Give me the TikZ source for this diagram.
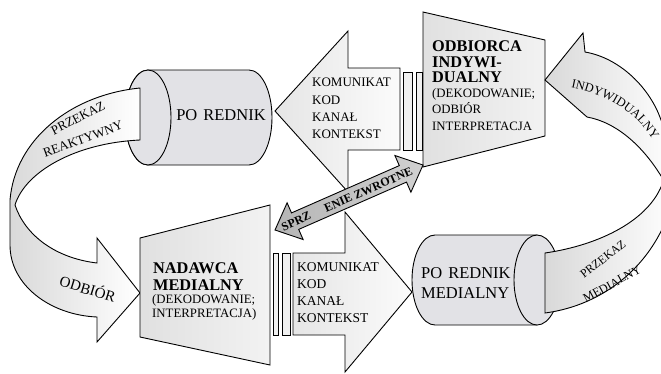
\documentclass[tikz,border=0pt]{standalone}
\usepackage{fontspec}
\setmainfont{Liberation Serif}
\usepackage{tikz}
\usetikzlibrary{positioning, decorations.text}
\definecolor{tubegray}{RGB}{226,226,230}
\tikzset{
    x=1pt, y=-1pt,
    outline/.style={draw=black, line width=0.9pt, line join=miter},
    tube/.style={outline, fill=tubegray},
    band/.style={outline, left color=gray!30, right color=white},
    flatarrow/.style={outline, left color=gray!20, right color=gray!3},
    bar/.style={outline, fill=gray!12},
    station/.style={outline, left color=gray!24, middle color=gray!2, right color=gray!10},
    feedback/.style={outline, left color=gray!58, right color=gray!36},
    msgtext/.style={inner sep=0pt, align=left, font=\fontsize{13}{17.3}\selectfont},
    headtext/.style={inner sep=0pt, align=left, font=\bfseries\fontsize{16.3}{15.5}\selectfont},
    roletext/.style={inner sep=0pt, align=left, font=\fontsize{12.8}{16.5}\selectfont},
    tubetext/.style={inner sep=0pt, align=left, font=\fontsize{16.5}{20}\selectfont},
    bandtext/.style={inner sep=0pt, font=\fontsize{13}{13}\selectfont}
}

\begin{document}
\begin{tikzpicture}
    \useasboundingbox (0,0) rectangle (661,373);
    \clip (0,0) rectangle (661,373);

    % upper relay tube and the reactive band
    \path[tube] (148,70) -- (249,70) arc[start angle=90, end angle=-90, x radius=23pt, y radius=47.5pt]
        -- (148,165) arc[start angle=270, end angle=90, x radius=23pt, y radius=47.5pt] -- cycle;
    \path[tube] (148,117.5) ellipse [x radius=23pt, y radius=47.5pt];
    \path[band] (140,88) .. controls (70,95) and (15,140) .. (10,200) -- (10,245)
        .. controls (10,285) and (50,315) .. (97,317) -- (97,342) -- (140,293) -- (97,238) -- (97,263)
        .. controls (55,258) and (25,235) .. (15,205)
        .. controls (25,172) and (75,143) .. (140,140) -- cycle;

    % message going to the relay
    \path[flatarrow] (275,111) -- (348,31) -- (348,68) -- (400,68) -- (400,150) -- (348,150) -- (348,192) -- cycle;
    \path[bar] (403,72) rectangle (412,150);
    \path[bar] (416,72) rectangle (422,150);
    \path[station] (423,12) -- (545,40) -- (545,136) -- (423,167) -- cycle;

    % lower relay tube and the media band
    \path[tube] (537,235) -- (435,235) arc[start angle=90, end angle=270, x radius=23pt, y radius=45pt]
        -- (537,325) -- cycle;
    \path[tube] (537,280) ellipse [x radius=23pt, y radius=45pt];
    \path[band] (545,313) .. controls (605,305) and (650,265) .. (668,215)
        .. controls (676,185) and (672,145) .. (661,120)
        .. controls (650,88) and (620,58) .. (585,52) -- (583,33) -- (545,80) -- (587,117)
        .. controls (615,122) and (645,145) .. (668,188) -- (663,182)
        .. controls (650,220) and (600,245) .. (545,253) -- cycle;

    % message going out of the sender
    \path[station] (140,238) -- (270,205) -- (270,365) -- (140,337) -- cycle;
    \path[bar] (273,253) rectangle (278,335);
    \path[bar] (282,253) rectangle (290,335);
    \path[flatarrow] (293,253) -- (345,253) -- (345,212) -- (412,292) -- (345,372) -- (345,335) -- (293,335) -- cycle;

    % feedback
    \path[feedback] (275,230) -- (303.1,239.5) -- (298.7,229.4) -- (406.5,182.1) -- (410.9,192.2)
        -- (423,165) -- (394.9,155.5) -- (399.3,165.6) -- (291.5,212.9) -- (287.1,202.8) -- cycle;

    % texts
    \node[tubetext] (relay) at (221,115) {PO\hspace{6pt}REDNIK};
    \node[tubetext, anchor=west] (mediarelay) at (421,283) {PO\hspace{6pt}REDNIK\\MEDIALNY};
    \node[msgtext, anchor=north west] (msgtop) at (312,78) {KOMUNIKAT\\KOD\\KANAŁ\\KONTEKST};
    \node[msgtext, anchor=north west, font=\fontsize{13.5}{17}\selectfont] (msgbottom) at (297,262) {KOMUNIKAT\\KOD\\KANAŁ\\KONTEKST};
    \node[headtext, anchor=north west] (recvname) at (432,41) {ODBIORCA\\INDYWI-\\DUALNY};
    \node[roletext, below right=5pt and 0pt of recvname.south west] (recvrole) {(DEKODOWANIE;\\ODBIÓR\\INTERPRETACJA};
    \node[headtext, anchor=north west, font=\bfseries\fontsize{16.3}{17}\selectfont] (sendname) at (153,262) {NADAWCA\\MEDIALNY};
    \node[roletext, below right=4pt and -1pt of sendname.south west, font=\fontsize{12.8}{14}\selectfont] (sendrole) {(DEKODOWANIE;\\INTERPRETACJA)};
    \node[bandtext, rotate=27] (reactive) at (78,118) {PRZEKAZ};
    \node[bandtext, rotate=20] (reactive2) at (83,139) {REAKTYWNY};
    \node[bandtext, rotate=-17, font=\fontsize{15}{15}\selectfont] (reception) at (88,288) {ODBIÓR};
    \node[bandtext, rotate=38, font=\fontsize{12}{12}\selectfont] (mediaband) at (603,259) {PRZEKAZ};
    \node[bandtext, rotate=29, font=\fontsize{12}{12}\selectfont] (mediaband2) at (612,284) {MEDIALNY};
    \node[inner sep=0pt, rotate=23.7, font=\bfseries\fontsize{12}{12}\selectfont] (fbtext) at (347,199) {SPRZ\hspace{16pt}ENIE ZWROTNE};
    \path[decorate, decoration={text along path, text align=center,
        text={|\fontsize{12.5}{12.5}\selectfont|INDYWIDUALNY}}]
        (560,86) .. controls (605,92) and (640,112) .. (658,150);
\end{tikzpicture}
\end{document}
